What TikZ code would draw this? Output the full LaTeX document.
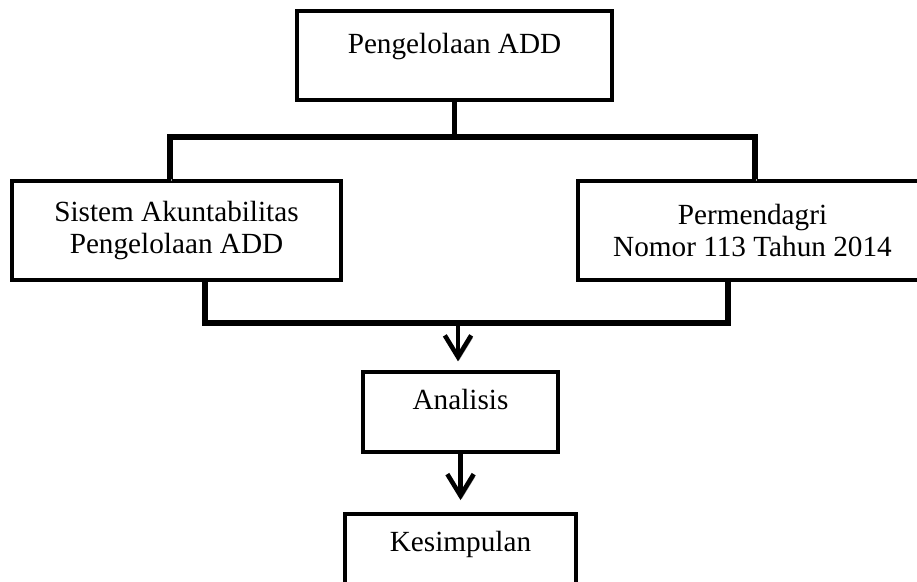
\documentclass[tikz,border=0pt]{standalone}
\usepackage{fontspec}
\setmainfont{Liberation Serif}
\usepackage{tikz}
\usetikzlibrary{arrows.meta,positioning}

\begin{document}
\begin{tikzpicture}[x=0.4174pt,y=-0.4174pt,font=\fontsize{12.2}{13.7}\selectfont,
  box/.style={draw,line width=1.7pt,inner sep=0pt,align=center},
  onebox/.style={box,text height=9pt,text depth=11pt},
  shade/.style={preaction={draw=black!40,transform canvas={xshift=0.5pt,yshift=-1pt}}},
  conn/.style={shade,line width=2.2pt},
  arr/.style={conn,line width=1.9pt,-{Straight Barb[length=9pt,width=11pt]}}]
\useasboundingbox (0,0) rectangle (917,582);
\clip (0,0) rectangle (917,582);
\node[onebox,minimum width=131.5pt,minimum height=37.1pt] (add) at (454.5,55.5) {Pengelolaan ADD};
\node[box,minimum width=137.3pt,minimum height=41.3pt] (sistem) at (176.5,230.5) {Sistem Akuntabilitas\\ Pengelolaan ADD};
\node[box,minimum width=145.7pt,minimum height=41.3pt] (permen) at (752.5,230.5) {Permendagri\\ Nomor 113 Tahun 2014};
\node[onebox,minimum width=81.4pt,minimum height=33.4pt] (analisis) at (460.5,412) {Analisis};
\node[onebox,minimum width=96.8pt,minimum height=33.4pt,below=24.2pt of analisis] (kesimpulan) {Kesimpulan};
\coordinate (upL) at (170,137);
\coordinate (upR) at (755,137);
\coordinate (loL) at (205,323);
\coordinate (loR) at (728,323);
\coordinate (loM) at (458,323);
\draw[conn] (add.south) -- (add.south |- upL);
\draw[conn] (upL |- sistem.north) -- (upL) -- (upR) -- (upR |- permen.north);
\draw[conn] (loL |- sistem.south) -- (loL) -- (loR) -- (loR |- permen.south);
\draw[arr,shorten >=3.6pt] (loM) -- (loM |- analisis.north);
\draw[arr,shorten >=5pt] (analisis.south) -- (kesimpulan.north);
\end{tikzpicture}
\end{document}
